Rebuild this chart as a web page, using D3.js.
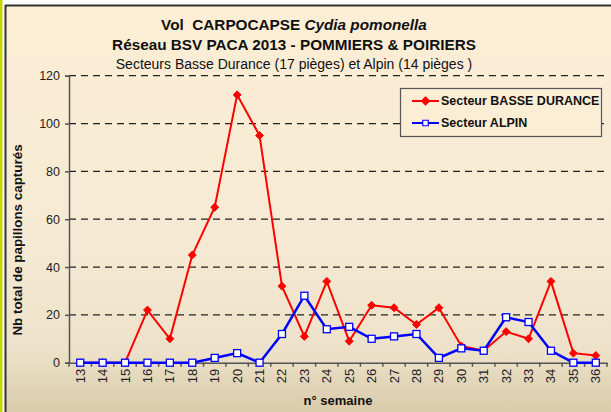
<!DOCTYPE html>
<html>
<head>
<meta charset="utf-8">
<script src="https://cdn.jsdelivr.net/npm/d3@7"></script>
<style>
  body { margin: 0; background: #fff; }
  svg { display: block; font-family: "Liberation Sans", Arial, sans-serif; }
</style>
</head>
<body>
<div id="chart"></div>
<script>
var weeks = [13, 14, 15, 16, 17, 18, 19, 20, 21, 22, 23, 24, 25, 26, 27, 28, 29, 30, 31, 32, 33, 34, 35, 36];
var basseDurance = [0, 0, 0, 22, 10, 45, 65, 112, 95, 32, 11, 34, 9, 24, 23, 16, 23, 7, 5, 13, 10, 34, 4, 3];
var alpin = [0, 0, 0, 0, 0, 0, 2, 4, 0, 12, 28, 14, 15, 10, 11, 12, 2, 6, 5, 19, 17, 5, 0, 0];
var yTicks = [0, 20, 40, 60, 80, 100, 120];
var seriesNames = ["Secteur BASSE DURANCE", "Secteur ALPIN"];

var W = 611, H = 412;
var plotL = 69, plotR = 607, plotT = 75.7, plotB = 362.7;

var svg = d3.select("#chart").append("svg")
    .attr("width", W)
    .attr("height", H);

var defs = svg.append("defs");
var grad = defs.append("linearGradient")
    .attr("id", "bg").attr("x1", 0).attr("y1", 0).attr("x2", 0).attr("y2", 1);
grad.append("stop").attr("offset", "0%").attr("stop-color", "#fdeed5");
grad.append("stop").attr("offset", "55%").attr("stop-color", "#f6ead4");
grad.append("stop").attr("offset", "85%").attr("stop-color", "#ede2c9");
grad.append("stop").attr("offset", "100%").attr("stop-color", "#d9cbab");

// frame
svg.append("rect").attr("x", 0).attr("y", 0).attr("width", W).attr("height", H).attr("fill", "#fff");
svg.append("rect").attr("x", 6).attr("y", 6).attr("width", W - 6).attr("height", H - 6).attr("fill", "url(#bg)");
svg.append("rect").attr("x", 0).attr("y", 0).attr("width", 2.5).attr("height", H).attr("fill", "#c6d600");
svg.append("line").attr("x1", 5.5).attr("x2", 5.5).attr("y1", 5).attr("y2", H).attr("stroke", "#333").attr("stroke-width", 2);
svg.append("line").attr("x1", 5).attr("x2", W).attr("y1", 5.5).attr("y2", 5.5).attr("stroke", "#333").attr("stroke-width", 2);

var x = d3.scaleBand().domain(weeks).range([plotL, plotR]);
var y = d3.scaleLinear().domain([0, 120]).range([plotB, plotT]);

// grid
svg.append("g").selectAll("line")
    .data(yTicks.filter(function(d) { return d > 0; }))
    .enter().append("line")
    .attr("x1", plotL).attr("x2", plotR)
    .attr("y1", function(d) { return y(d); }).attr("y2", function(d) { return y(d); })
    .attr("stroke", "#222").attr("stroke-width", 1.2)
    .attr("stroke-dasharray", "7,5");

// y axis
var yAxis = svg.append("g")
    .attr("transform", "translate(" + plotL + ",0)")
    .call(d3.axisLeft(y).tickValues(yTicks).tickSize(4).tickPadding(5));
yAxis.select(".domain").attr("stroke", "#555").attr("stroke-width", 1.5);
yAxis.selectAll(".tick line").attr("stroke", "#555").attr("stroke-width", 1.5);
yAxis.selectAll("text").attr("font-size", 12.5).attr("fill", "#222").attr("font-family", "Liberation Sans, Arial, sans-serif");

// x axis
var xAxis = svg.append("g")
    .attr("transform", "translate(0," + plotB + ")")
    .call(d3.axisBottom(x).tickSize(0).tickPadding(0));
xAxis.select(".domain").attr("stroke", "#555").attr("stroke-width", 1.5);
xAxis.selectAll("text")
    .attr("font-size", 13).attr("fill", "#222")
    .attr("font-family", "Liberation Sans, Arial, sans-serif")
    .attr("text-anchor", "end")
    .attr("transform", "translate(4.5,6) rotate(-90)")
    .attr("dy", 0).attr("y", 0);
// boundary ticks
svg.append("g").selectAll("line")
    .data(weeks.concat(["end"]))
    .enter().append("line")
    .attr("x1", function(d, i) { return plotL + i * x.step(); })
    .attr("x2", function(d, i) { return plotL + i * x.step(); })
    .attr("y1", plotB).attr("y2", plotB + 4)
    .attr("stroke", "#555").attr("stroke-width", 1.5);

var cx = function(d, i) { return x(weeks[i]) + x.bandwidth() / 2; };
var line = d3.line().x(cx).y(function(d) { return y(d); });

// red series
svg.append("path").datum(basseDurance)
    .attr("d", line).attr("fill", "none")
    .attr("stroke", "#ff0000").attr("stroke-width", 2);
var diamond = d3.symbol().type(d3.symbolDiamond2).size(40);
svg.append("g").selectAll("path")
    .data(basseDurance).enter().append("path")
    .attr("d", diamond)
    .attr("transform", function(d, i) { return "translate(" + cx(d, i) + "," + y(d) + ")"; })
    .attr("fill", "#ff0000").attr("stroke", "#ff0000").attr("stroke-width", 1);

// blue series
svg.append("path").datum(alpin)
    .attr("d", line).attr("fill", "none")
    .attr("stroke", "#0000ff").attr("stroke-width", 2.5);
svg.append("g").selectAll("rect")
    .data(alpin).enter().append("rect")
    .attr("x", function(d, i) { return cx(d, i) - 3.5; })
    .attr("y", function(d) { return y(d) - 3.5; })
    .attr("width", 7).attr("height", 7)
    .attr("fill", "#fff").attr("stroke", "#0000ff").attr("stroke-width", 1.3);

// legend
var lg = svg.append("g");
lg.append("rect").attr("x", 400.5).attr("y", 88.5).attr("width", 201).attr("height", 48)
    .attr("fill", "#fcedd5").attr("stroke", "#555").attr("stroke-width", 1.2);
var items = lg.selectAll("g.item").data(seriesNames).enter().append("g")
    .attr("transform", function(d, i) { return "translate(0," + (101 + i * 22) + ")"; });
items.append("line").attr("x1", 412).attr("x2", 439).attr("y1", 0).attr("y2", 0)
    .attr("stroke", function(d, i) { return i ? "#0000ff" : "#ff0000"; })
    .attr("stroke-width", 2);
items.append("path")
    .attr("d", function(d, i) { return i ? d3.symbol().type(d3.symbolSquare).size(30)() : diamond(); })
    .attr("transform", "translate(425.5,0)")
    .attr("fill", function(d, i) { return i ? "#fff" : "#ff0000"; })
    .attr("stroke", function(d, i) { return i ? "#0000ff" : "#ff0000"; })
    .attr("stroke-width", 1.2);
items.append("text").attr("x", 441).attr("y", 0).attr("dy", "0.35em")
    .attr("font-size", 12.5).attr("font-weight", "bold").attr("fill", "#111")
    .text(function(d) { return d; });

// titles
var t1 = svg.append("text").attr("x", 294).attr("y", 30).attr("text-anchor", "middle")
    .attr("font-size", 15.3).attr("font-weight", "bold").attr("fill", "#111")
    .style("white-space", "pre");
t1.append("tspan").text("Vol  CARPOCAPSE ");
t1.append("tspan").attr("font-style", "italic").text("Cydia pomonella");
svg.append("text").attr("x", 294).attr("y", 50).attr("text-anchor", "middle")
    .attr("font-size", 15.3).attr("font-weight", "bold").attr("fill", "#111")
    .text("Réseau BSV PACA 2013 - POMMIERS & POIRIERS");
svg.append("text").attr("x", 294).attr("y", 69).attr("text-anchor", "middle")
    .attr("font-size", 14).attr("fill", "#111")
    .text("Secteurs Basse Durance (17 pièges) et Alpin (14 pièges )");

// axis titles
svg.append("text").attr("transform", "translate(22,240) rotate(-90)")
    .attr("text-anchor", "middle").attr("font-size", 13.4).attr("font-weight", "bold").attr("fill", "#111")
    .text("Nb total de papillons capturés");
svg.append("text").attr("x", 338).attr("y", 405).attr("text-anchor", "middle")
    .attr("font-size", 13).attr("font-weight", "bold").attr("fill", "#111")
    .text("n° semaine");
</script>
</body>
</html>
